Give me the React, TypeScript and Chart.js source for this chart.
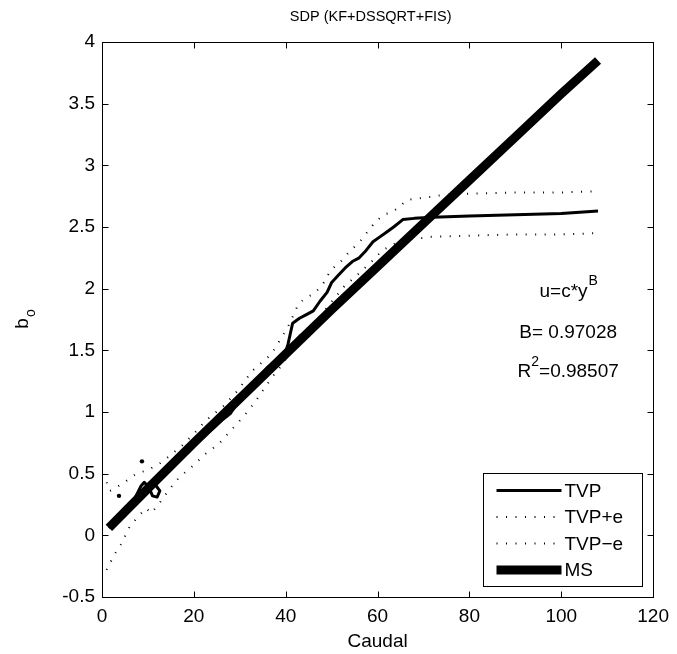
import React, { useEffect, useRef } from "react";
import { Chart, registerables } from "chart.js";

Chart.register(...registerables);

const TITLE = "SDP (KF+DSSQRT+FIS)";
const X_LABEL = "Caudal";
const Y_LABEL_MAIN = "b";
const Y_LABEL_SUB = "o";
const ANNOT_1 = "u=c*y";
const ANNOT_1_SUP = "B";
const ANNOT_2 = "B= 0.97028";
const ANNOT_3_A = "R";
const ANNOT_3_SUP = "2";
const ANNOT_3_B = "=0.98507";

const xTicks = [0, 20, 40, 60, 80, 100, 120];
const yTicks = [-0.5, 0, 0.5, 1, 1.5, 2, 2.5, 3, 3.5, 4];

const legendLabels = ["TVP", "TVP+e", "TVP\u2212e", "MS"];

const tvpX = [1.5, 3, 5, 7, 8.5, 9.2, 10.2, 11.0, 12.0, 12.6, 11.6, 13, 14, 16, 18, 20, 22, 24, 26, 28, 30, 32, 34, 36, 38, 40, 40.5, 41.5, 43, 44.5, 46, 47.5, 49, 50, 51.5, 53, 54.5, 56, 57.5, 59, 60.5, 62, 63.5, 65.5, 68, 72, 80, 90, 100, 108];
const tvpY = [0.06, 0.12, 0.2, 0.29, 0.40, 0.43, 0.39, 0.32, 0.31, 0.36, 0.41, 0.47, 0.52, 0.60, 0.68, 0.75, 0.82, 0.86, 0.93, 0.99, 1.10, 1.19, 1.27, 1.36, 1.41, 1.49, 1.55, 1.72, 1.76, 1.79, 1.82, 1.90, 1.97, 2.05, 2.11, 2.17, 2.22, 2.25, 2.31, 2.38, 2.42, 2.46, 2.50, 2.56, 2.57, 2.58, 2.59, 2.60, 2.61, 2.63];

const plusX = [1, 1.7, 4.5, 7.5, 10, 12.5, 14.6, 17.5, 20.4, 22.6, 26.5, 29.7, 32.6, 36.9, 40.5, 42.7, 44.1, 46.2, 48, 49.8, 52, 54.1, 55.9, 58, 59.5, 61.3, 63.1, 64.6, 66.4, 68.5, 70.7, 74.3, 80, 90, 100, 108];
const plusY = [0.43, 0.36, 0.42, 0.50, 0.53, 0.58, 0.64, 0.73, 0.84, 0.93, 1.05, 1.18, 1.33, 1.47, 1.69, 1.87, 1.92, 1.96, 2.03, 2.15, 2.22, 2.31, 2.37, 2.47, 2.54, 2.60, 2.62, 2.66, 2.72, 2.73, 2.74, 2.76, 2.77, 2.78, 2.78, 2.79];

const minusX = [1, 2.8, 4.2, 6, 7.8, 9.6, 10.7, 12.5, 14.6, 16.8, 19.7, 22.5, 25.4, 28.3, 31.2, 33.3, 35.5, 37.6, 39.4, 41, 43, 45, 47, 49, 51, 53, 55, 57, 59, 61, 63, 65, 67.8, 69.6, 71.7, 80, 90, 100, 108];
const minusY = [-0.28, -0.15, -0.07, 0.07, 0.15, 0.22, 0.18, 0.26, 0.37, 0.47, 0.56, 0.66, 0.74, 0.86, 0.98, 1.08, 1.20, 1.31, 1.39, 1.50, 1.62, 1.67, 1.74, 1.85, 1.94, 2.03, 2.09, 2.16, 2.23, 2.31, 2.35, 2.39, 2.41, 2.41, 2.42, 2.43, 2.44, 2.44, 2.45];

const msX = [1.5, 10, 20, 30, 40, 50, 60, 70, 80, 90, 100, 108];
const msY = [0.06, 0.38, 0.75, 1.11, 1.47, 1.83, 2.18, 2.53, 2.88, 3.23, 3.58, 3.85];

const dotX = [3.7, 8.7];
const dotY = [0.32, 0.6];

const FONT = '"Liberation Sans", Arial, Helvetica, sans-serif';
const FS = 19;
const TITLE_FS = 14.5;
const SUP_FS = 14;

const zip = (xs: number[], ys: number[]) => xs.map((x, i) => ({ x, y: ys[i] }));

const overlayPlugin = {
  id: "matlabOverlay",
  afterDraw(chart: any) {
    const { ctx, chartArea: a, scales } = chart;
    const xs = scales.x;
    const ys = scales.y;
    ctx.save();
    ctx.strokeStyle = "#000";
    ctx.fillStyle = "#000";
    ctx.lineWidth = 1;
    const L = Math.round(a.left) + 0.5;
    const R = Math.round(a.right) + 0.5;
    const T = Math.round(a.top) + 0.5;
    const B = Math.round(a.bottom) + 0.5;
    ctx.strokeRect(L, T, R - L, B - T);
    const TL = 6;
    ctx.beginPath();
    xTicks.forEach((v) => {
      const px = Math.round(xs.getPixelForValue(v)) + 0.5;
      ctx.moveTo(px, B);
      ctx.lineTo(px, B - TL);
      ctx.moveTo(px, T);
      ctx.lineTo(px, T + TL);
    });
    yTicks.forEach((v) => {
      const py = Math.round(ys.getPixelForValue(v)) + 0.5;
      ctx.moveTo(L, py);
      ctx.lineTo(L + TL, py);
      ctx.moveTo(R, py);
      ctx.lineTo(R - TL, py);
    });
    ctx.stroke();

    const cx = (a.left + a.right) / 2;
    ctx.textAlign = "center";
    ctx.textBaseline = "alphabetic";
    ctx.font = `${TITLE_FS}px ${FONT}`;
    ctx.fillText(TITLE, xs.getPixelForValue(58.5), a.top - 21);
    ctx.font = `${FS}px ${FONT}`;
    ctx.fillText(X_LABEL, cx, a.bottom + 50);

    // y label b_o
    ctx.save();
    ctx.translate(28, (a.top + a.bottom) / 2);
    ctx.rotate(-Math.PI / 2);
    ctx.textAlign = "left";
    ctx.font = `${FS}px ${FONT}`;
    const wb = ctx.measureText(Y_LABEL_MAIN).width;
    ctx.font = `${SUP_FS}px ${FONT}`;
    const wo = ctx.measureText(Y_LABEL_SUB).width;
    const start = -(wb + wo) / 2;
    ctx.font = `${FS}px ${FONT}`;
    ctx.fillText(Y_LABEL_MAIN, start, 0);
    ctx.font = `${SUP_FS}px ${FONT}`;
    ctx.fillText(Y_LABEL_SUB, start + wb + 1, 7);
    ctx.restore();

    // annotations
    const acx = xs.getPixelForValue(101.5);
    const supF = `${SUP_FS}px ${FONT}`;
    const mainF = `${FS}px ${FONT}`;
    ctx.textAlign = "left";
    ctx.font = mainF;
    const w1 = ctx.measureText(ANNOT_1).width;
    ctx.font = supF;
    const w1s = ctx.measureText(ANNOT_1_SUP).width;
    let sx = acx - (w1 + w1s) / 2;
    const y1 = ys.getPixelForValue(1.93);
    ctx.font = mainF;
    ctx.fillText(ANNOT_1, sx, y1);
    ctx.font = supF;
    ctx.fillText(ANNOT_1_SUP, sx + w1 + 1, y1 - 12);

    ctx.font = mainF;
    ctx.textAlign = "center";
    ctx.fillText(ANNOT_2, acx, ys.getPixelForValue(1.6));

    ctx.textAlign = "left";
    ctx.font = mainF;
    const wa = ctx.measureText(ANNOT_3_A).width;
    const wbb = ctx.measureText(ANNOT_3_B).width;
    ctx.font = supF;
    const ws = ctx.measureText(ANNOT_3_SUP).width;
    sx = acx - (wa + ws + wbb) / 2;
    const y3 = ys.getPixelForValue(1.28);
    ctx.font = mainF;
    ctx.fillText(ANNOT_3_A, sx, y3);
    ctx.font = supF;
    ctx.fillText(ANNOT_3_SUP, sx + wa, y3 - 11);
    ctx.font = mainF;
    ctx.fillText(ANNOT_3_B, sx + wa + ws, y3);

    // legend
    const bw = 159;
    const bh = 113;
    const bx = Math.round(a.right - 11 - bw) + 0.5;
    const by = Math.round(a.bottom - 11 - bh) + 0.5;
    ctx.fillStyle = "#fff";
    ctx.fillRect(bx, by, bw, bh);
    ctx.strokeStyle = "#000";
    ctx.lineWidth = 1;
    ctx.strokeRect(bx, by, bw, bh);
    const entries = chart.data.datasets.filter((d: any) => d.inLegend);
    entries.forEach((d: any, i: number) => {
      const ry = by + 17 + i * 26.5;
      ctx.save();
      ctx.strokeStyle = "#000";
      ctx.lineWidth = d.borderWidth;
      ctx.lineCap = "butt";
      ctx.setLineDash(d.borderDash || []);
      ctx.beginPath();
      ctx.moveTo(bx + 13, ry);
      ctx.lineTo(bx + 78, ry);
      ctx.stroke();
      ctx.restore();
      ctx.fillStyle = "#000";
      ctx.font = mainF;
      ctx.textAlign = "left";
      ctx.textBaseline = "middle";
      ctx.fillText(d.label, bx + 81, ry + 1);
    });
    ctx.restore();
  },
};

export default function App() {
  const ref = useRef<HTMLCanvasElement | null>(null);
  useEffect(() => {
    if (!ref.current) return;
    const dotted = [1, 8.5];
    const chart = new Chart(ref.current, {
      type: "line",
      data: {
        datasets: [
          {
            label: legendLabels[0],
            data: zip(tvpX, tvpY),
            borderColor: "#000",
            borderWidth: 3,
            pointRadius: 0,
            tension: 0,
            borderJoinStyle: "round",
            order: 1,
            inLegend: true,
          } as any,
          {
            label: legendLabels[1],
            data: zip(plusX, plusY),
            borderColor: "#000",
            borderWidth: 2,
            borderDash: dotted,
            pointRadius: 0,
            tension: 0,
            order: 2,
            inLegend: true,
          } as any,
          {
            label: legendLabels[2],
            data: zip(minusX, minusY),
            borderColor: "#000",
            borderWidth: 2,
            borderDash: dotted,
            pointRadius: 0,
            tension: 0,
            order: 2,
            inLegend: true,
          } as any,
          {
            label: legendLabels[3],
            data: zip(msX, msY),
            borderColor: "#000",
            borderWidth: 9,
            borderCapStyle: "butt",
            pointRadius: 0,
            tension: 0,
            order: 0,
            inLegend: true,
          } as any,
          {
            label: "",
            data: zip(dotX, dotY),
            showLine: false,
            pointRadius: 2.2,
            pointBackgroundColor: "#000",
            pointBorderWidth: 0,
            borderColor: "#000",
            order: 3,
            inLegend: false,
          } as any,
        ],
      },
      options: {
        animation: false,
        responsive: false,
        devicePixelRatio: 1,
        layout: { padding: { top: 42, right: 18, left: 0, bottom: 0 } },
        plugins: {
          legend: { display: false },
          tooltip: { enabled: false },
          title: { display: false },
        },
        scales: {
          x: {
            type: "linear",
            min: 0,
            max: 120,
            grid: { display: false, drawTicks: false, tickLength: 0 },
            border: { display: false },
            ticks: {
              stepSize: 20,
              autoSkip: false,
              maxRotation: 0,
              padding: 8,
              color: "#000",
              font: { family: FONT, size: FS },
            },
            afterFit: (s: any) => {
              s.height = 57;
            },
          },
          y: {
            type: "linear",
            min: -0.5,
            max: 4,
            grid: { display: false, drawTicks: false, tickLength: 0 },
            border: { display: false },
            ticks: {
              stepSize: 0.5,
              autoSkip: false,
              padding: 7,
              color: "#000",
              font: { family: FONT, size: FS },
              callback: (v: any) => String(v),
            },
            afterFit: (s: any) => {
              s.width = 102;
            },
          },
        },
      } as any,
      plugins: [overlayPlugin],
    });
    return () => chart.destroy();
  }, []);
  return (
    <div style={{ position: "absolute", left: 0, top: 0, width: 677, height: 654, background: "#fff" }}>
      <canvas ref={ref} width={677} height={654} style={{ width: 677, height: 654, display: "block" }} />
    </div>
  );
}
